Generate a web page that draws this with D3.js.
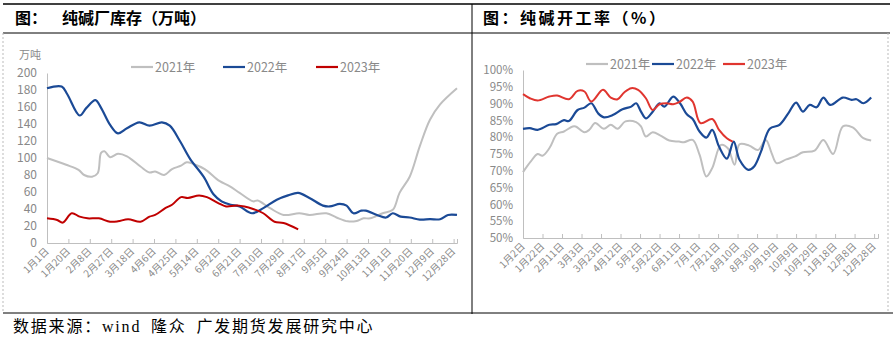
<!doctype html>
<html lang="zh">
<head>
<meta charset="UTF-8">
<title>纯碱厂库存 / 纯碱开工率</title>
<script src="https://cdn.jsdelivr.net/npm/d3@7"></script>
<style>
    body { margin: 0; background: #fff; }
    svg { display: block; }
    .tick-label { font-family: "Noto Sans CJK SC", "Open Sans", sans-serif; fill: #898989; }
    .title { font-family: "Noto Sans CJK SC", serif; font-weight: bold; font-size: 16px; fill: #000; }
    .source { font-family: "Liberation Serif", "Noto Sans CJK SC", serif; font-size: 16px; fill: #000;
        letter-spacing: 1.8px; word-spacing: 4px; }
</style>
</head>
<body>
<svg id="chart" width="893" height="344"></svg>
<script>
// ---- data (day of year, value) ----
const invLabels = ["1月1日","1月20日","2月8日","2月27日","3月18日","4月6日","4月25日","5月14日","6月2日","6月21日",
    "7月10日","7月29日","8月17日","9月5日","9月24日","10月13日","11月1日","11月20日","12月9日","12月28日"];
const invTicks = [0,19,38,57,76,95,114,133,152,171,190,209,228,247,266,285,304,323,342,361];

const inv2021 = [[0,100],[17,92],[28,86],[33,80],[40,78],[45,82],[48,106],[51,108],[56,101],[63,105],[71,102],
    [83,90],[91,83],[96,84],[104,80],[111,87],[119,91],[124,95],[130,93],[140,87],[153,73],[162,67],[171,59],
    [183,49],[187,50],[198,41],[210,33],[224,35],[233,33],[248,35],[257,30],[267,25.5],[275,26],[281,29],
    [287,29],[298,35],[307,39],[313,59],[322,78],[331,114],[340,145],[349,163],[364,182]];
const inv2022 = [[0,182],[13,184],[18,175],[29,150],[35,159],[43,168],[48,159],[56,139],[63,129],[71,135],
    [82,142],[91,138],[102,142],[109,138],[118,120],[127,99],[139,78],[148,57],[155,49],[163,45],[171,43],
    [182,35],[192,41],[204,51],[214,56],[223,59],[233,53],[245,44],[251,43],[260,46],[266,44],[272,35],
    [279,38],[283,38],[293,33],[301,30],[307,35],[314,31],[322,30],[331,27.5],[340,28],[349,28],[356,33],[364,33]];
const inv2023 = [[0,29],[9,27],[14,24],[22,35],[29,31],[36,29],[46,29],[56,25],[63,25.5],[72,28],[83,25],
    [91,31],[96,33],[105,41],[111,45],[119,54],[125,53],[135,56],[142,54],[152,47],[159,43],[169,44],
    [183,40],[192,35],[202,25],[210,23.5],[223,16]];

const rateLabels = ["1月2日","1月22日","2月11日","3月3日","3月23日","4月12日","5月2日","5月22日","6月11日","7月1日",
    "7月21日","8月10日","8月30日","9月19日","10月9日","10月29日","11月18日","12月8日","12月28日"];
const rateTicks = [1,21,41,61,81,101,121,141,161,181,201,221,241,261,281,301,321,341,361];

const rate2021 = [[1,69.6],[9,72.8],[16,75],[21,74.5],[28,76.7],[36,81],[43,81.7],[52,83.2],[55,83.2],[64,81.5],
    [69,82.2],[75,84.2],[84,82.5],[91,83.7],[98,82.5],[106,84.7],[117,84.5],[122,83.2],[127,80.2],[134,81.5],
    [142,80.5],[151,79],[161,78.7],[166,78.5],[175,79.2],[182,74.8],[189,68.3],[195,70.8],[204,77.7],
    [211,76.7],[218,71.8],[223,77.9],[233,77.5],[242,76.2],[250,79.2],[256,75.2],[261,72.3],[271,73.4],
    [280,74.3],[288,75.5],[300,76],[309,79.2],[319,75],[329,83.2],[339,82.9],[350,79.7],[358,79]];
const rate2022 = [[1,82.5],[8,82.7],[16,82.2],[28,83.7],[35,83.9],[43,85.1],[48,84.8],[57,88.1],[64,88.8],
    [71,90.1],[78,87.1],[84,85.9],[93,86.6],[103,88.3],[112,89.1],[117,90.1],[122,87.6],[127,85.6],[134,87.6],
    [141,90.1],[146,89.1],[155,92.1],[162,90.1],[169,86.8],[175,85.4],[182,81.7],[189,79.9],[195,82.2],
    [202,77.2],[210,73.6],[217,78.7],[223,73.3],[232,70.3],[238,71.3],[245,75.7],[254,82.5],[264,83.7],
    [273,87.1],[281,90.3],[288,87.6],[295,89.6],[302,88.9],[309,91.8],[316,89.6],[329,91.8],[338,91.1],
    [343,91.3],[350,90.1],[358,91.8]];
const rate2023 = [[1,92.8],[8,91.6],[16,90.9],[28,92.1],[36,92.4],[48,91.3],[57,93.8],[64,93.6],[71,90.6],
    [83,94.1],[91,91.8],[98,91.3],[105,93.4],[112,94.6],[119,94.1],[127,91.6],[134,88.1],[141,89.8],
    [148,90.1],[155,89.8],[161,90.4],[169,91.8],[175,90.6],[183,84.2],[195,85.4],[202,82.2],[210,79.7],[216,78.7]];

const svg = d3.select("#chart");

// ---- frame ----
const frame = svg.append("g");
frame.append("line").attr("x1", 3).attr("x2", 890).attr("y1", 4).attr("y2", 4)
    .attr("stroke", "#000").attr("stroke-width", 1.6);
frame.append("line").attr("x1", 3).attr("x2", 890).attr("y1", 33).attr("y2", 33)
    .attr("stroke", "#000").attr("stroke-width", 1);
frame.append("line").attr("x1", 472).attr("x2", 472).attr("y1", 4).attr("y2", 314)
    .attr("stroke", "#000").attr("stroke-width", 1);
frame.append("line").attr("x1", 3).attr("x2", 893).attr("y1", 313).attr("y2", 313)
    .attr("stroke", "#000").attr("stroke-width", 1);
[3, 888].forEach(x => {
    frame.append("line").attr("x1", x).attr("x2", x).attr("y1", 33).attr("y2", 313)
        .attr("stroke", "#bbb").attr("stroke-width", 1).attr("stroke-dasharray", "2,2");
});

svg.append("text").attr("class", "title").attr("x", 15).attr("y", 24).text("图：");
svg.append("text").attr("class", "title").attr("x", 62).attr("y", 24).text("纯碱厂库存（万吨）");
svg.append("text").attr("class", "title").attr("x", 483).attr("y", 24).attr("letter-spacing", 2.5).text("图：纯碱开工率（%）");
svg.append("text").attr("class", "source").attr("x", 13).attr("y", 332).text("数据来源：wind 隆众 广发期货发展研究中心");

const colors = { y2021: "#bfbfbf", y2022: "#1b4a96" };

function drawPanel(opt) {
    const g = svg.append("g");
    const x = d3.scaleLinear().domain(opt.xDomain).range(opt.xRange);
    const y = d3.scaleLinear().domain(opt.yDomain).range(opt.yRange);

    // y axis
    const yAxis = d3.axisLeft(y).tickValues(opt.yTicks).tickSize(0).tickPadding(opt.yPad).tickFormat(opt.yFormat);
    const ya = g.append("g").attr("transform", `translate(${opt.xRange[0]},0)`).call(yAxis);
    ya.select(".domain").attr("stroke", "#bfbfbf");
    ya.selectAll("text").attr("class", "tick-label").attr("font-size", opt.yFont).attr("font-family", null).attr("fill", null);

    // x axis (ticks pointing up)
    const xAxis = d3.axisBottom(x).tickValues(opt.xTicks).tickSize(-4).tickFormat((d, i) => opt.xLabels[i]);
    const xa = g.append("g").attr("transform", `translate(0,${opt.yRange[0]})`).call(xAxis);
    xa.select(".domain").attr("stroke", "#bfbfbf");
    xa.selectAll(".tick line").attr("stroke", "#bfbfbf");
    xa.selectAll("text").attr("class", "tick-label").attr("font-size", 10).attr("font-family", null).attr("fill", null)
        .attr("text-anchor", "end").attr("dy", null).attr("y", 0)
        .attr("transform", "translate(2,9) rotate(-45)");

    const line = d3.line().x(d => x(d[0])).y(d => y(d[1])).curve(d3.curveCatmullRom.alpha(0.5));
    opt.series.forEach(s => {
        g.append("path").datum(s.data).attr("d", line).attr("fill", "none")
            .attr("stroke", s.color).attr("stroke-width", s.width).attr("stroke-linejoin", "round");
    });

    // legend
    opt.series.forEach((s, i) => {
        const lx = opt.legendX[i];
        g.append("line").attr("x1", lx).attr("x2", lx + 22).attr("y1", opt.legendY).attr("y2", opt.legendY)
            .attr("stroke", s.color).attr("stroke-width", 2.2);
        g.append("text").attr("class", "tick-label").attr("x", lx + 24).attr("y", opt.legendY + 4.5)
            .attr("font-size", 12.5).text(s.name);
    });
}

drawPanel({
    xDomain: [0, 364], xRange: [47, 457],
    yDomain: [0, 200], yRange: [243, 73],
    yTicks: d3.range(0, 201, 20), yFormat: d => d, yPad: 10, yFont: 12,
    xTicks: invTicks, xLabels: invLabels,
    legendX: [131, 223, 316], legendY: 67,
    series: [
        { name: "2021年", data: inv2021, color: colors.y2021, width: 2 },
        { name: "2022年", data: inv2022, color: colors.y2022, width: 2.2 },
        { name: "2023年", data: inv2023, color: "#c00000", width: 2 }
    ]
});
svg.append("text").attr("class", "tick-label").attr("x", 19).attr("y", 59).attr("font-size", 11).text("万吨");

drawPanel({
    xDomain: [1, 365], xRange: [523, 878],
    yDomain: [50, 100], yRange: [238, 70],
    yTicks: d3.range(50, 101, 5), yFormat: d => d + "%", yPad: 10, yFont: 11.5,
    xTicks: rateTicks, xLabels: rateLabels,
    legendX: [586, 652, 723], legendY: 64,
    series: [
        { name: "2021年", data: rate2021, color: colors.y2021, width: 2 },
        { name: "2022年", data: rate2022, color: colors.y2022, width: 2.2 },
        { name: "2023年", data: rate2023, color: "#e0352f", width: 2 }
    ]
});
</script>
</body>
</html>
